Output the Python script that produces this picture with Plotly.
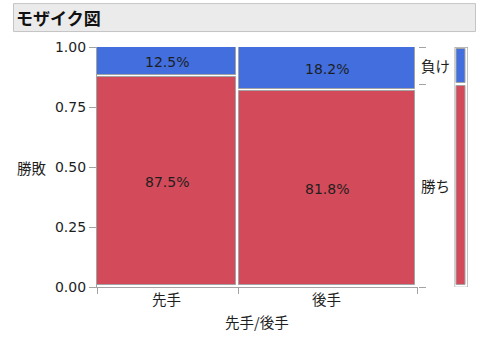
import plotly.graph_objects as go

# ---- data ----
columns = ["先手", "後手"]            # x categories
col_share = [0.4425, 0.5575]          # column widths (share of games)
outcomes = ["勝ち", "負け"]            # stacked from bottom
win_pct = [87.5, 81.8]
lose_pct = [12.5, 18.2]
y_ticks = [0.0, 0.25, 0.5, 0.75, 1.0]
title = "モザイク図"
x_title = "先手/後手"
y_title = "勝敗"

# ---- styling / layout constants ----
W, H = 480, 345
L, R, T, B = 97, 470, 47, 287.5
main_right = 417.5
side_left, side_right = 454.5, 468
BLUE = "rgb(66,110,222)"
RED = "rgb(211,74,90)"
GRAY = "#a3a3a3"
TXT = "#1e1e1e"
NUM_FONT = "DejaVu Sans"
CJK_FONT = "Noto Sans CJK JP"

pw, ph = R - L, B - T
def px(x):
    return (x - L) / pw
def py(y):
    return (B - y) / ph

main_pw = main_right - L
gap_x = 2.5 / main_pw
gap_y = 2.0 / ph

win = [v / 100 for v in win_pct]
lose = [v / 100 for v in lose_pct]

fig = go.Figure()

# mosaic columns
starts = []
c = 0.0
for w in col_share:
    starts.append(c)
    c += w
widths = [w - gap_x for w in col_share]
centers = [s + wd / 2 for s, wd in zip(starts, widths)]

fig.add_trace(go.Bar(
    x=centers, y=[wv - gap_y for wv in win], base=[gap_y] * len(win),
    width=widths, marker=dict(color=RED, line=dict(color=GRAY, width=1)),
    name=outcomes[0], showlegend=False, hoverinfo="skip", xaxis="x", yaxis="y"))
fig.add_trace(go.Bar(
    x=centers, y=[lv - gap_y for lv in lose], base=[wv + gap_y for wv in win],
    width=widths, marker=dict(color=BLUE, line=dict(color=GRAY, width=1)),
    name=outcomes[1], showlegend=False, hoverinfo="skip", xaxis="x", yaxis="y"))

# percentage labels
annotations = []
for cx, wv, lv, wp, lp in zip(centers, win, lose, win_pct, lose_pct):
    annotations.append(dict(x=cx, y=wv / 2, xref="x", yref="y", text=f"{wp:.1f}%",
                            xanchor="center", yanchor="middle",
                            showarrow=False, font=dict(family=NUM_FONT, size=14, color=TXT)))
    annotations.append(dict(x=cx, y=wv + lv / 2, xref="x", yref="y", text=f"{lp:.1f}%",
                            xanchor="center", yanchor="middle",
                            showarrow=False, font=dict(family=NUM_FONT, size=14, color=TXT)))

# overall marginal shares
overall_lose = sum(w * l for w, l in zip(col_share, lose))
overall_win = 1 - overall_lose

# marginal bar (right)
gy = 1.5 / ph
fig.add_trace(go.Bar(
    x=[0.465], y=[overall_win - gy - 2.5 / ph], base=[2.5 / ph], width=[0.63],
    marker=dict(color=RED, line=dict(color=GRAY, width=1)),
    showlegend=False, hoverinfo="skip", xaxis="x2", yaxis="y"))
fig.add_trace(go.Bar(
    x=[0.465], y=[overall_lose - gy - 2.0 / ph], base=[overall_win + gy], width=[0.63],
    marker=dict(color=BLUE, line=dict(color=GRAY, width=1)),
    showlegend=False, hoverinfo="skip", xaxis="x2", yaxis="y"))

# invisible trace so the right-hand axis is drawn
fig.add_trace(go.Scatter(x=[0.5], y=[0.5], xaxis="x", yaxis="y2", mode="markers",
                         marker=dict(opacity=0), showlegend=False, hoverinfo="skip"))

# x category labels and right-side outcome labels
for cx, name in zip(centers, columns):
    annotations.append(dict(x=cx, y=py(299), xref="x", yref="paper", text=name,
                            xanchor="center", yanchor="middle",
                            showarrow=False, font=dict(family=CJK_FONT, size=14.5, color=TXT)))
annotations.append(dict(x=px(418.5), y=overall_win / 2, xref="paper", yref="y", text=outcomes[0],
                        xanchor="left", yanchor="middle", showarrow=False,
                        font=dict(family=CJK_FONT, size=14.5, color=TXT)))
annotations.append(dict(x=px(418.5), y=overall_win + overall_lose / 2, xref="paper", yref="y",
                        text=outcomes[1], xanchor="left", yanchor="middle", showarrow=False,
                        font=dict(family=CJK_FONT, size=14.5, color=TXT)))
# axis titles
annotations.append(dict(x=0.5, y=py(322.5), xref="x", yref="paper", text=x_title,
                        xanchor="center", yanchor="middle",
                        showarrow=False, font=dict(family=CJK_FONT, size=14.5, color=TXT)))
annotations.append(dict(x=px(49), y=0.5, xref="paper", yref="y", text=y_title,
                        xanchor="right", yanchor="middle",
                        showarrow=False, font=dict(family=CJK_FONT, size=14.5, color=TXT)))
# title
annotations.append(dict(x=px(14), y=py(17.5), xref="paper", yref="paper", text=f"<b>{title}</b>",
                        xanchor="left", yanchor="middle", showarrow=False,
                        font=dict(family=CJK_FONT, size=17, color="#111")))

shapes = [
    dict(type="rect", xref="paper", yref="paper", x0=px(13.5), x1=px(475.5), y0=py(31.5), y1=py(3.5),
         fillcolor="#ebebeb", line=dict(color="#c4c4c4", width=1), layer="below"),
    dict(type="rect", xref="x2", yref="y", x0=0, x1=1, y0=-0.5 / ph, y1=1,
         line=dict(color=GRAY, width=1.3), fillcolor="rgba(0,0,0,0)"),
]

x_bounds = [0.0] + [s + w for s, w in zip(starts, col_share)]

fig.update_layout(
    width=W, height=H,
    margin=dict(l=L, r=W - R, t=T, b=H - B, pad=0),
    paper_bgcolor="white", plot_bgcolor="white",
    barmode="overlay", bargap=0,
    shapes=shapes, annotations=annotations,
    xaxis=dict(domain=[0, main_pw / pw], range=[0, 1], showgrid=False, zeroline=False,
               showline=True, linecolor=GRAY, linewidth=1.3,
               ticks="outside", ticklen=6, tickcolor=GRAY, tickwidth=1.3,
               tickvals=x_bounds, showticklabels=False, anchor="y"),
    xaxis2=dict(domain=[px(side_left), px(side_right)], range=[0, 1], visible=False, anchor="y"),
    yaxis=dict(range=[0, 1], showgrid=False, zeroline=False, showline=True,
               linecolor=GRAY, linewidth=1.3, ticks="outside", ticklen=7, tickcolor=GRAY,
               tickwidth=1.3, tickvals=y_ticks, ticktext=[f"{v:.2f}" for v in y_ticks],
               tickfont=dict(family=NUM_FONT, size=14, color=TXT), anchor="x"),
    yaxis2=dict(range=[0, 1], overlaying="y", side="right", anchor="x", showgrid=False,
                zeroline=False, showline=False, ticks="outside", ticklen=7, tickcolor=GRAY,
                tickwidth=1.3, tickvals=[0, overall_win, 1], showticklabels=False),
)

fig.write_html("out.html")
